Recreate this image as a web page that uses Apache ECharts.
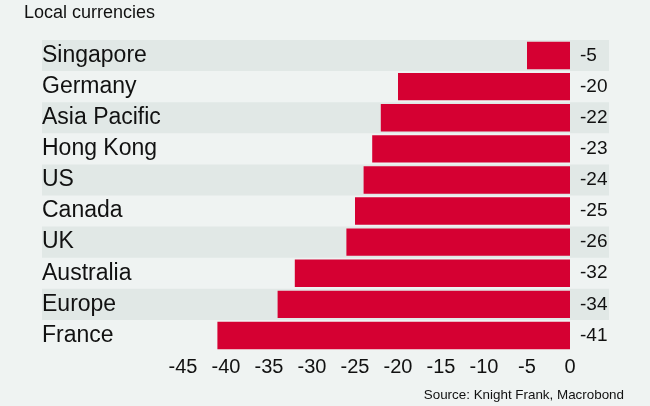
<!DOCTYPE html>
<html>
<head>
<meta charset="utf-8">
<script src="https://cdn.jsdelivr.net/npm/echarts@6/dist/echarts.min.js"></script>
<style>
  html, body { margin: 0; padding: 0; background: #EFF3F2; }
  #chart { width: 650px; height: 406px; }
</style>
</head>
<body>
<div id="chart"></div>
<script>
// Change by market, local currencies (%)
const categories = ['Singapore', 'Germany', 'Asia Pacific', 'Hong Kong', 'US', 'Canada', 'UK', 'Australia', 'Europe', 'France'];
const values = [-5, -20, -22, -23, -24, -25, -26, -32, -34, -41];
const axisMin = -45;
const axisMax = 0;
const axisStep = 5;

const FONT = '"Liberation Sans", Arial, sans-serif';
const TOP = 40;
const ROWS_H = 311;

const chart = echarts.init(document.getElementById('chart'), null, { renderer: 'canvas' });

chart.setOption({
  backgroundColor: '#EFF3F2',
  animation: false,
  title: [
    {
      text: 'Local currencies',
      left: 24, top: 4, padding: 0,
      textStyle: { fontFamily: FONT, fontSize: 18, fontWeight: 'normal', color: '#111' }
    },
    {
      text: 'Source: Knight Frank, Macrobond',
      right: 26, top: 389, padding: 0,
      textStyle: { fontFamily: FONT, fontSize: 13.4, fontWeight: 'normal', color: '#111' }
    }
  ],
  grid: [
    // full-width grid carrying the alternating row bands
    { left: 42, right: 41, top: TOP, height: ROWS_H },
    // plotting grid for the bars
    { left: 183, right: 80, top: TOP, height: ROWS_H }
  ],
  xAxis: [
    {
      gridIndex: 0, type: 'value', min: 0, max: 1, show: false
    },
    {
      gridIndex: 1, type: 'value', min: axisMin, max: axisMax, interval: axisStep,
      axisLine: { show: false }, axisTick: { show: false }, splitLine: { show: false },
      axisLabel: { fontFamily: FONT, fontSize: 20, color: '#111', margin: 6 }
    }
  ],
  yAxis: [
    {
      gridIndex: 0, type: 'category', data: categories, inverse: true,
      axisLine: { show: false }, axisTick: { show: false }, axisLabel: { show: false },
      splitLine: { show: false },
      splitArea: { show: true, areaStyle: { color: ['#E1E8E6', 'rgba(0,0,0,0)'] } }
    },
    {
      gridIndex: 1, type: 'category', data: categories, inverse: true,
      axisLine: { show: false }, axisTick: { show: false }, splitLine: { show: false },
      axisLabel: {
        fontFamily: FONT, fontSize: 23, color: '#111',
        align: 'left', margin: 141
      }
    }
  ],
  series: [
    {
      type: 'bar',
      xAxisIndex: 1, yAxisIndex: 1,
      data: values,
      barCategoryGap: '12%',
      itemStyle: { color: '#D50032' },
      label: {
        show: true, position: 'right', distance: 10,
        fontFamily: FONT, fontSize: 19, color: '#111'
      }
    }
  ]
});
</script>
</body>
</html>
